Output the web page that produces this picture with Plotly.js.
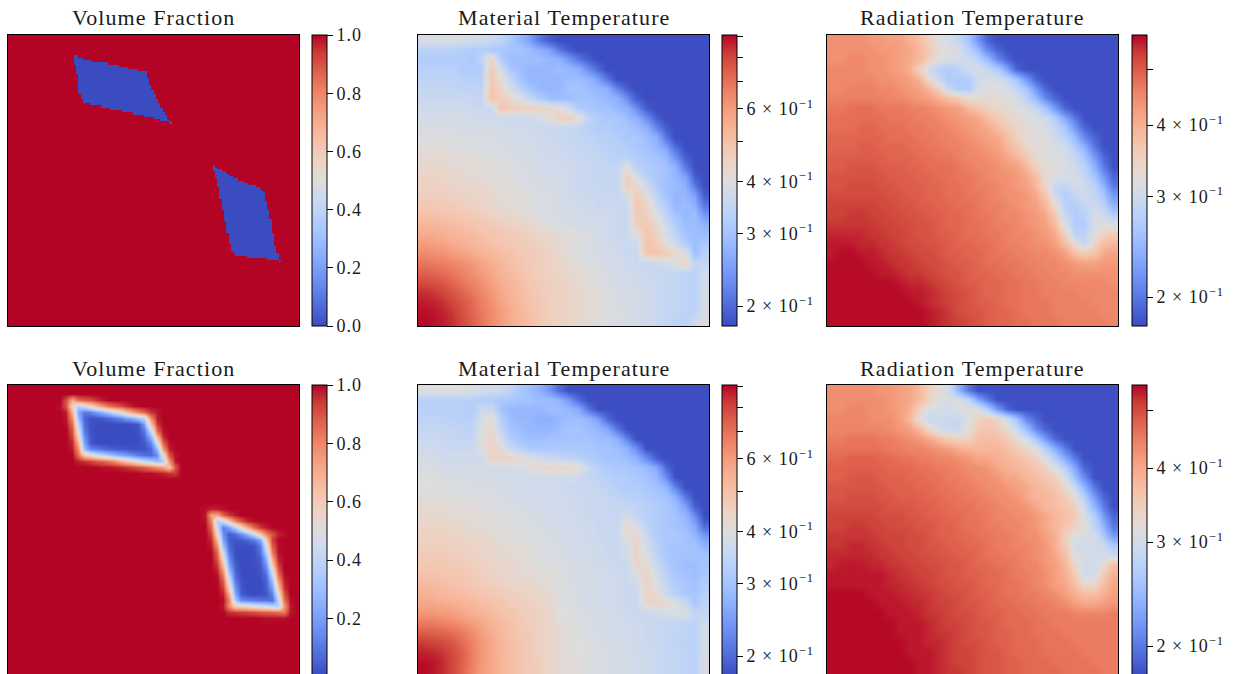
<!DOCTYPE html>
<html>
<head>
<meta charset="utf-8">
<script src="https://cdn.plot.ly/plotly-3.0.1.min.js"></script>
<style>
html,body{margin:0;padding:0;background:#fff;overflow:hidden;width:1240px;height:674px}
.annotation-text{letter-spacing:1.1px}
.colorbar text{letter-spacing:1px}
</style>
</head>
<body>
<div id="chart" style="width:1240px;height:700px"></div>
<script>
const panelTitles = ["Volume Fraction", "Material Temperature", "Radiation Temperature"];

// coolwarm colour map
const coolwarm = [[0,"rgb(59,76,192)"],[0.0625,"rgb(77,104,215)"],[0.125,"rgb(98,130,234)"],[0.1875,"rgb(119,154,247)"],[0.25,"rgb(141,176,254)"],[0.3125,"rgb(163,194,255)"],[0.375,"rgb(184,208,249)"],[0.4375,"rgb(204,217,238)"],[0.5,"rgb(221,221,221)"],[0.5625,"rgb(236,211,197)"],[0.625,"rgb(245,196,173)"],[0.6875,"rgb(247,177,148)"],[0.75,"rgb(244,154,123)"],[0.8125,"rgb(236,127,99)"],[0.875,"rgb(222,96,77)"],[0.9375,"rgb(203,62,56)"],[1,"rgb(180,4,38)"]];

// Top-left panel: low-density patches, [row, first column, end column] on a 128-cell grid
const vfTopSpans = [[9,29,31],[10,29,33],[11,29,37],[12,29,44],[13,30,49],[14,30,53],[15,30,57],[16,30,61],[17,31,61],[18,31,61],[19,31,62],[20,31,62],[21,31,62],[22,31,63],[23,31,63],[24,31,64],[25,31,64],[26,32,65],[27,32,65],[28,33,66],[29,33,66],[30,36,67],[31,41,67],[32,45,68],[33,50,68],[34,55,69],[35,60,70],[36,64,70],[37,67,71],[38,71,72],
[57,90,91],[58,90,92],[59,90,94],[60,91,96],[61,91,97],[62,91,99],[63,92,101],[64,92,104],[65,92,106],[66,92,109],[67,93,111],[68,93,112],[69,93,113],[70,93,113],[71,93,113],[72,94,113],[73,94,114],[74,94,114],[75,94,114],[76,94,114],[77,95,115],[78,95,115],[79,95,115],[80,95,115],[81,95,116],[82,96,116],[83,96,116],[84,96,116],[85,96,116],[86,96,116],[87,97,117],[88,97,117],[89,97,117],[90,97,117],[91,97,117],[92,98,117],[93,98,118],[94,98,118],[95,99,118],[96,100,119],[97,105,119],[98,114,119],[99,119,120]];

// Bottom-left panel: [row, first column, values...] on a 48-cell grid; all other cells are 1
const vfBottomPatches = [
[2,9,.9,.72,.85,.88,.91,.95,.98],
[3,8,.99,.9,.58,.36,.45,.55,.65,.75,.83,.88,.91,.95,.98],
[4,9,.97,.7,.23,.1,.13,.2,.26,.35,.43,.52,.63,.73,.81,.87,.95,.98],
[5,9,.98,.78,.3,.06,.02,.02,.04,.06,.1,.13,.2,.25,.33,.4,.78,.98],
[6,9,.99,.85,.4,.08,.01,.01,0,0,0,0,0,.01,.03,.2,.63,.94],
[7,10,.9,.48,.11,.02,0,0,0,0,0,0,0,.02,.1,.42,.87,.99],
[8,10,.93,.58,.17,.03,0,0,0,0,0,0,0,.01,.05,.24,.67,.96],
[9,10,.97,.7,.22,.04,0,0,0,0,0,0,0,.01,.03,.12,.47,.88,.99],
[10,10,.98,.78,.3,.15,.12,.09,.06,.05,.04,.03,.02,.02,.02,.06,.28,.75,.97],
[11,11,.85,.62,.55,.47,.4,.35,.28,.23,.2,.16,.11,.09,.07,.16,.53,.9,.99],
[12,11,.97,.95,.93,.89,.87,.83,.78,.7,.63,.56,.48,.42,.36,.28,.35,.78,.98],
[13,15,.99,.99,.98,.97,.95,.93,.9,.87,.83,.78,.72,.62,.9],
[14,22,.99,.99,.98,.97,.95,.94],
[20,32,.99,.97,.97,.99],
[21,32,.98,.73,.72,.87,.94,.98],
[22,32,.99,.81,.35,.44,.63,.8,.9,.97,.99],
[23,33,.87,.44,.11,.21,.35,.53,.72,.86,.94,.98],
[24,33,.93,.55,.16,.04,.08,.16,.27,.43,.62,.8,.9,.97,.99],
[25,33,.96,.67,.21,.04,.02,.03,.06,.11,.21,.6,.93],
[26,33,.98,.78,.3,.07,.01,.01,.01,.02,.11,.46,.88,.99],
[27,34,.86,.42,.09,.01,0,0,.01,.08,.37,.83,.99],
[28,34,.9,.52,.14,.02,0,0,.01,.04,.26,.72,.97],
[29,34,.94,.63,.2,.04,0,0,.01,.03,.19,.62,.94],
[30,34,.97,.74,.27,.06,0,0,0,.02,.12,.48,.89],
[31,34,.99,.83,.38,.08,.01,0,0,.01,.08,.38,.83,.99],
[32,35,.89,.48,.12,.02,0,0,0,.05,.27,.73,.97],
[33,35,.93,.58,.17,.03,0,0,0,.04,.2,.63,.95],
[34,35,.97,.7,.24,.04,.01,0,.01,.02,.13,.5,.9],
[35,35,.99,.8,.34,.15,.13,.11,.1,.09,.08,.38,.85,.99],
[36,35,.98,.78,.6,.57,.54,.5,.47,.44,.4,.37,.75,.98],
[37,36,.95,.94,.93,.92,.91,.89,.88,.87,.85,.83,.98],
[38,42,.99,.99,.99,.99]];

// Temperatures in hundredths
const matTop = [
[39,39,39,39,39,38,37,36,34,31,28,25,21,19,18,18,18,18,18,18,18,18,18,18,18,18,18,18,18,18],
[33,33,33,33,32,32,32,31,31,30,30,29,27,25,21,19,18,18,18,18,18,18,18,18,18,18,18,18,18,18],
[32,32,32,32,32,31,34,44,32,29,29,29,29,28,27,24,21,19,18,18,18,18,18,18,18,18,18,18,18,18],
[33,33,33,33,32,32,32,47,38,31,29,28,28,28,29,28,27,23,20,18,18,18,18,18,18,18,18,18,18,18],
[34,34,34,34,33,33,33,48,42,35,30,28,28,28,28,29,29,28,25,21,18,18,18,18,18,18,18,18,18,18],
[35,35,35,35,34,34,34,49,44,38,33,30,28,28,28,30,30,29,28,27,22,19,18,18,18,18,18,18,18,18],
[36,36,36,36,36,35,35,50,46,43,39,35,32,29,29,29,30,30,29,28,27,23,19,18,18,18,18,18,18,18],
[37,37,37,37,37,36,36,36,49,47,46,45,44,43,41,37,32,31,30,30,28,27,23,19,18,18,18,18,18,18],
[38,38,38,38,38,38,37,37,37,36,36,37,39,41,46,46,42,34,32,31,31,29,27,23,19,18,18,18,18,18],
[39,39,39,39,38,38,38,38,38,37,37,37,36,36,36,36,35,33,32,32,31,31,29,27,22,19,18,18,18,18],
[40,40,40,40,39,39,39,39,38,38,38,37,37,36,36,35,35,34,33,33,32,31,31,29,27,21,18,18,18,18],
[41,41,41,40,40,40,39,39,39,38,38,38,37,37,36,36,35,35,34,33,33,32,31,30,28,25,20,18,18,18],
[42,42,42,41,41,41,40,40,39,39,38,38,37,37,37,36,36,35,35,34,33,33,32,31,30,28,23,19,18,18],
[43,43,43,42,42,42,41,41,40,40,39,39,38,37,37,37,36,36,35,35,35,40,33,32,31,30,27,21,18,18],
[44,44,44,43,43,42,42,41,41,40,39,39,38,38,37,37,36,36,35,35,35,46,38,33,31,30,28,25,19,18],
[45,45,45,44,44,43,43,42,41,41,40,39,39,38,38,37,36,36,36,35,35,47,43,37,32,29,29,27,21,18],
[46,46,46,45,45,44,44,43,42,41,41,40,39,39,38,37,37,36,36,36,35,38,47,41,34,30,28,28,25,19],
[48,48,47,47,46,45,44,43,42,42,41,40,39,39,38,38,37,37,36,36,36,36,48,44,37,32,28,29,27,21],
[50,50,49,49,48,47,46,45,44,43,42,41,40,39,39,38,38,37,37,37,36,35,47,46,40,34,30,28,29,24],
[53,53,52,51,50,49,48,47,46,45,44,43,41,40,39,39,38,38,37,37,36,36,46,48,43,37,32,29,29,27],
[56,56,55,54,53,52,50,49,48,47,46,45,44,43,42,41,40,39,38,37,36,36,40,49,45,39,34,30,29,29],
[60,59,58,56,55,53,52,50,49,48,47,46,45,44,42,41,40,39,38,37,37,36,37,49,47,42,37,32,29,31],
[64,63,62,60,58,56,54,53,51,50,48,47,46,45,43,41,40,39,38,38,37,36,36,48,49,47,43,40,29,33],
[69,68,67,65,63,61,58,55,53,51,49,47,46,45,44,42,41,40,39,38,38,37,36,36,36,38,40,44,35,35],
[74,73,71,69,66,63,60,57,54,52,50,48,46,45,44,43,42,41,40,39,38,37,37,36,36,35,35,34,34,37],
[79,78,76,73,69,66,63,59,56,53,51,48,47,46,45,44,42,41,40,39,38,38,37,37,36,35,35,34,33,38],
[84,83,80,77,73,69,65,61,57,54,52,49,47,46,45,44,43,42,41,40,39,38,38,37,36,35,35,34,33,38],
[87,86,84,80,76,72,67,63,58,55,52,50,48,46,45,44,43,42,41,40,39,38,38,37,36,35,35,34,33,39],
[89,88,86,83,78,73,68,64,60,56,53,50,48,46,45,44,43,42,41,40,39,39,38,37,36,35,35,34,34,39],
[90,89,87,84,79,74,69,64,60,56,53,51,48,46,45,44,43,42,41,40,39,39,38,37,36,35,34,33,37,39]];

const matBottom = [
[40,40,40,40,40,39,38,37,36,34,31,29,27,24,20,18,18,18,18,18,18,18,18,18,18,18,18,18,18,18],
[33,33,33,33,33,33,32,32,31,31,30,30,29,29,27,24,20,18,18,18,18,18,18,18,18,18,18,18,18,18],
[33,33,33,33,33,32,36,36,30,28,28,28,28,29,29,28,26,21,18,18,18,18,18,18,18,18,18,18,18,18],
[34,34,34,33,33,33,38,42,33,29,28,28,27,27,28,29,29,28,25,20,18,18,18,18,18,18,18,18,18,18],
[35,35,35,35,34,34,40,43,35,30,29,28,28,28,29,30,30,29,28,26,21,18,18,18,18,18,18,18,18,18],
[36,36,36,35,35,35,40,44,38,32,30,29,29,30,30,30,30,30,29,29,27,22,18,18,18,18,18,18,18,18],
[37,37,36,36,36,36,40,45,42,36,33,31,31,31,31,31,31,31,30,30,29,27,23,18,18,18,18,18,18,18],
[38,38,37,37,37,37,37,44,45,44,42,40,38,36,35,34,33,32,31,30,30,29,27,23,19,18,18,18,18,18],
[39,39,38,38,38,38,38,38,38,38,39,41,43,44,44,44,42,36,33,32,31,31,30,29,26,20,18,18,18,18],
[40,40,39,39,39,39,38,38,38,38,37,37,37,37,37,37,37,35,34,33,32,32,31,30,28,23,18,18,18,18],
[40,40,40,40,39,39,39,39,38,38,38,37,37,37,37,36,36,36,35,34,33,32,32,31,30,28,22,18,18,18],
[41,41,41,40,40,40,40,39,39,38,38,38,37,37,37,37,36,36,36,35,34,33,33,32,31,30,27,21,18,18],
[42,42,42,41,41,41,40,40,39,39,39,38,38,37,37,37,37,36,36,36,35,35,34,33,32,31,29,25,19,18],
[43,43,43,42,42,42,41,41,40,40,39,39,38,38,37,37,37,36,36,36,35,38,35,33,32,31,30,28,23,18],
[44,44,44,43,43,42,42,41,41,40,40,39,39,38,38,37,37,37,36,36,36,43,39,34,32,31,30,29,26,20],
[45,45,45,44,44,43,43,42,41,41,40,40,39,39,38,38,37,37,36,36,36,42,43,36,32,31,31,30,28,24],
[46,46,46,45,45,44,44,43,42,42,41,40,39,39,39,38,37,37,37,36,36,38,44,38,33,31,30,30,30,27],
[47,47,47,46,46,45,44,44,43,42,42,41,40,39,39,38,38,37,37,36,36,37,44,40,34,31,30,30,30,30],
[48,48,48,47,47,46,45,44,43,43,42,41,40,40,39,39,38,38,37,37,36,36,44,42,36,32,30,29,29,30],
[50,50,49,49,48,47,46,45,44,43,42,42,41,41,40,39,38,38,38,37,37,36,40,44,38,33,31,30,29,31],
[52,52,51,50,49,48,47,46,45,44,43,43,42,41,40,39,39,38,38,37,37,36,37,44,40,35,32,31,30,32],
[55,54,53,52,51,50,49,48,47,46,45,44,43,43,40,39,39,38,38,37,37,36,36,44,42,37,33,31,30,33],
[57,57,56,55,54,53,51,50,49,47,46,45,44,43,40,40,39,38,38,37,37,36,36,43,44,43,40,36,31,34],
[61,61,60,59,57,55,54,52,50,49,47,46,45,44,40,40,39,39,38,38,37,37,36,36,37,38,39,39,35,35],
[68,68,66,65,62,60,57,54,52,50,48,46,45,44,41,40,40,39,38,38,37,37,37,36,36,35,35,34,34,37],
[75,74,73,71,68,64,59,56,53,50,48,47,45,44,42,41,40,39,39,38,38,37,37,36,36,35,35,34,33,38],
[82,80,79,76,71,66,61,57,53,51,49,47,45,44,42,41,40,40,39,38,38,37,37,36,36,35,34,34,33,38],
[86,85,83,79,74,67,61,57,54,51,49,47,45,44,42,41,40,40,39,39,38,38,37,37,36,35,35,34,33,39],
[89,88,85,80,74,67,61,57,54,51,49,47,46,44,42,41,41,40,39,39,38,38,37,37,36,35,35,34,33,39],
[90,88,85,80,73,66,60,57,54,51,49,47,46,44,42,41,41,40,39,39,38,38,37,37,36,35,35,34,33,39]];

const radTop = [
[44,44,44,44,43,43,42,42,40,38,35,32,31,29,26,22,19,18,18,18,18,18,18,18,18,18,18,18,18,18],
[44,44,44,44,44,43,43,42,41,39,36,33,32,31,28,25,21,19,18,18,18,18,18,18,18,18,18,18,18,18],
[44,44,45,45,44,44,43,42,41,39,35,32,31,31,30,28,25,21,19,18,18,18,18,18,18,18,18,18,18,18],
[45,45,45,45,44,44,43,42,40,35,30,28,27,28,30,31,29,27,23,19,18,18,18,18,18,18,18,18,18,18],
[45,45,45,45,45,44,44,43,42,40,33,29,27,27,27,30,31,31,29,26,22,19,18,18,18,18,18,18,18,18],
[45,45,46,46,46,45,45,44,43,42,39,35,29,27,27,31,32,32,31,29,26,22,19,18,18,18,18,18,18,18],
[46,46,46,46,46,46,45,45,44,43,42,40,38,36,33,33,33,33,32,31,28,25,21,19,18,18,18,18,18,18],
[47,47,48,48,48,47,47,47,46,46,45,44,43,42,39,37,35,34,33,32,31,29,26,22,19,18,18,18,18,18],
[48,48,48,48,48,48,47,47,47,46,46,45,44,43,42,41,38,36,34,33,32,31,30,27,23,20,18,18,18,18],
[48,48,48,49,49,48,48,48,47,47,46,46,45,44,43,42,41,38,36,34,33,32,31,29,26,22,19,18,18,18],
[49,49,49,49,49,49,48,48,48,47,47,46,46,45,44,43,42,41,38,35,33,32,32,30,28,25,21,19,18,18],
[49,49,49,50,50,49,49,49,48,48,47,47,46,46,45,44,43,42,39,37,34,33,32,31,30,27,24,20,18,18],
[50,50,50,50,50,50,49,49,49,48,48,47,47,46,45,45,44,43,41,39,36,33,32,32,31,29,26,22,19,18],
[50,50,51,51,51,50,50,50,49,49,48,48,48,47,46,45,45,44,43,42,39,35,33,32,31,30,28,24,20,18],
[51,51,51,51,51,51,50,50,50,49,49,48,48,47,47,46,45,44,44,43,41,38,33,32,31,31,29,26,22,19],
[51,51,52,52,52,51,51,50,50,50,49,49,48,48,47,46,46,45,44,43,42,39,34,29,29,31,30,28,24,20],
[52,52,52,52,52,52,51,51,50,50,49,49,48,48,47,47,46,45,44,44,43,41,37,30,27,29,30,29,26,22],
[53,53,53,53,53,52,52,51,51,50,50,49,49,48,48,47,46,46,45,44,43,42,39,33,28,27,29,30,28,24],
[53,53,54,54,53,53,52,52,51,51,50,50,49,49,48,47,47,46,45,45,44,43,41,36,29,27,28,31,30,27],
[54,54,54,54,54,53,53,52,52,51,51,50,49,49,48,48,47,46,46,45,44,43,42,38,31,27,27,31,32,31],
[55,55,55,55,54,54,53,53,52,51,51,50,50,49,48,48,47,47,46,45,45,44,43,41,35,28,28,32,35,36],
[56,56,56,55,55,54,54,53,52,52,51,51,50,49,49,48,48,47,46,46,45,44,44,42,38,33,29,34,38,39],
[56,57,57,56,56,55,54,54,53,52,52,51,50,50,49,49,48,47,47,46,46,45,45,44,42,38,36,37,41,42],
[57,57,57,57,56,56,55,54,54,53,52,52,51,50,50,49,48,48,47,47,46,46,45,45,44,43,42,42,43,43],
[57,57,57,57,57,56,56,55,54,54,53,52,51,51,50,49,49,48,48,47,47,46,46,45,45,44,44,44,44,44],
[57,57,57,57,57,57,57,56,55,55,54,53,52,51,50,50,49,49,48,48,47,47,46,46,45,45,45,45,45,44],
[57,57,57,57,57,57,57,57,56,56,55,54,53,52,51,50,49,49,48,48,47,47,46,46,46,46,45,45,45,45],
[57,57,57,57,57,57,57,57,57,56,55,54,53,52,51,50,50,49,48,48,47,47,47,46,46,46,46,45,45,45],
[57,57,57,57,57,57,57,57,57,57,56,55,54,52,51,51,50,49,49,48,47,47,47,46,46,46,46,46,45,45],
[57,57,57,57,57,57,57,57,57,57,56,55,54,53,52,51,50,49,49,48,48,47,47,47,46,46,46,46,46,45]];

const radBottom = [
[43,43,43,43,43,42,42,41,40,38,34,32,30,24,20,18,18,18,18,18,18,18,18,18,18,18,18,18,18,18],
[43,43,43,43,43,43,42,41,40,38,34,31,31,31,28,23,20,18,18,18,18,18,18,18,18,18,18,18,18,18],
[43,43,44,44,43,43,42,41,39,34,31,30,30,31,32,31,27,22,19,18,18,18,18,18,18,18,18,18,18,18],
[44,44,44,44,43,43,43,41,38,32,29,29,29,29,31,34,35,34,30,26,21,19,18,18,18,18,18,18,18,18],
[44,44,44,44,44,44,43,42,41,38,33,30,29,29,32,35,36,35,33,29,25,21,19,18,18,18,18,18,18,18],
[45,45,46,46,46,45,45,44,43,42,40,37,35,34,34,37,37,37,35,33,30,26,22,19,18,18,18,18,18,18],
[46,46,46,46,46,46,45,45,44,44,43,42,41,39,38,38,38,38,37,35,33,31,27,23,20,18,18,18,18,18],
[47,47,48,48,48,47,47,46,46,45,45,44,44,43,42,40,40,39,38,37,36,34,31,27,23,20,18,18,18,18],
[48,48,48,48,48,48,47,47,47,46,46,45,45,44,43,43,42,40,39,38,37,36,34,31,27,23,19,18,18,18],
[48,48,49,49,49,48,48,48,47,47,46,46,45,45,44,43,43,42,40,40,38,37,36,34,30,25,21,18,18,18],
[49,49,49,49,49,49,48,48,48,47,47,46,46,45,45,44,43,43,42,41,40,38,37,36,33,29,24,20,18,18],
[49,49,50,50,50,49,49,48,48,48,47,47,46,46,45,45,44,43,43,42,40,38,38,37,35,32,27,22,19,18],
[50,50,50,50,50,50,49,49,49,48,48,47,47,46,46,45,45,44,43,43,42,40,38,37,36,34,29,24,20,18],
[51,51,51,51,51,50,50,50,49,49,48,48,47,47,46,46,45,44,44,43,43,42,40,38,37,35,31,27,22,19],
[51,51,52,52,51,51,50,50,50,49,49,48,48,47,46,46,45,45,44,44,43,42,40,38,36,34,32,28,24,20],
[52,52,52,52,52,51,51,51,50,50,49,48,48,47,47,46,46,45,45,44,43,43,41,39,34,31,31,30,26,22],
[52,52,53,53,52,52,51,51,50,50,49,49,48,48,47,47,46,45,45,44,44,43,42,39,35,30,30,30,29,26],
[53,53,53,53,53,52,52,51,51,50,50,49,49,48,48,47,46,46,45,45,44,43,42,40,37,31,30,30,30,29],
[53,54,54,54,53,53,52,52,51,51,50,50,49,49,48,47,47,46,46,45,44,44,42,41,38,33,30,30,32,37],
[54,54,54,54,54,54,53,52,52,51,51,50,49,49,48,48,47,47,46,45,45,44,43,41,39,35,30,30,35,39],
[54,54,54,54,54,54,53,53,52,52,51,50,50,49,49,48,47,47,46,46,45,44,43,41,40,37,33,33,37,40],
[55,55,55,55,54,54,54,53,53,52,52,51,50,50,49,48,48,47,46,46,45,45,44,43,41,39,37,37,39,41],
[55,55,55,55,55,54,54,54,53,53,52,51,51,50,49,49,48,47,47,46,46,45,45,44,43,41,40,40,41,42],
[55,55,55,55,55,55,54,54,54,53,52,52,51,50,50,49,48,48,47,47,46,46,45,45,45,44,44,44,44,45],
[55,55,55,55,55,55,55,54,54,54,53,52,51,51,50,49,49,48,47,47,47,46,46,45,45,45,45,45,45,45],
[55,55,55,55,55,55,55,54,54,54,53,52,52,51,50,49,49,48,48,47,47,46,46,46,45,45,45,45,45,45],
[55,55,55,55,55,55,55,55,54,54,53,53,52,51,50,50,49,48,48,47,47,47,46,46,46,45,45,45,45,45],
[55,55,55,55,55,55,55,55,54,54,54,53,52,51,51,50,49,49,48,47,47,47,46,46,46,46,45,45,45,45],
[55,55,55,55,55,55,55,55,55,54,54,53,52,51,51,50,49,49,48,48,47,47,47,46,46,46,46,45,45,45],
[55,55,55,55,55,55,55,55,55,54,54,53,52,52,51,50,49,49,48,48,47,47,47,47,46,46,46,46,45,45]];

// colour limits and ticks
const matRange = [0.179, 0.906];
const radTopRange = [0.178, 0.575];
const radBottomRange = [0.178, 0.553];
const vfTopTicks = [0, 0.2, 0.4, 0.6, 0.8, 1];
const vfTopLabels = ["0.0", "0.2", "0.4", "0.6", "0.8", "1.0"];
const vfBottomTicks = [0.2, 0.4, 0.6, 0.8, 1];
const vfBottomLabels = ["0.2", "0.4", "0.6", "0.8", "1.0"];
const matTicks = [0.2, 0.3, 0.4, 0.5, 0.6, 0.7, 0.8, 0.9];
const matLabels = ["2 × 10<sup>−1</sup>", "3 × 10<sup>−1</sup>", "4 × 10<sup>−1</sup>", "", "6 × 10<sup>−1</sup>", "", "", ""];
const radTicks = [0.2, 0.3, 0.4, 0.5];
const radLabels = ["2 × 10<sup>−1</sup>", "3 × 10<sup>−1</sup>", "4 × 10<sup>−1</sup>", ""];

// page geometry in pixels
const W = 1240, H = 700, SIDE = 291;
const colLeft = [8, 418, 827];
const barLeft = [312, 722, 1132];
const rowTop = [35, 385];
const titleY = [18, 368];
const FONT = "Liberation Serif, Times New Roman, serif";

const vfTop = Array.from({length: 128}, () => new Array(128).fill(1));
vfTopSpans.forEach(s => { for (let c = s[1]; c < s[2]; c++) vfTop[s[0]][c] = 0; });
const vfBottom = Array.from({length: 48}, () => new Array(48).fill(1));
vfBottomPatches.forEach(p => { p.slice(2).forEach((v, k) => { vfBottom[p[0]][p[1] + k] = v; }); });
const logGrid = g => g.map(r => r.map(v => Math.log10(v / 100)));

const panels = [
 {r:0,c:0,z:vfTop,smooth:false,zr:[0,1],tv:vfTopTicks,tt:vfTopLabels},
 {r:0,c:1,z:logGrid(matTop),smooth:"best",zr:matRange.map(Math.log10),tv:matTicks.map(Math.log10),tt:matLabels},
 {r:0,c:2,z:logGrid(radTop),smooth:"best",zr:radTopRange.map(Math.log10),tv:radTicks.map(Math.log10),tt:radLabels},
 {r:1,c:0,z:vfBottom,smooth:"best",zr:[0.003,1],tv:vfBottomTicks,tt:vfBottomLabels},
 {r:1,c:1,z:logGrid(matBottom),smooth:"best",zr:matRange.map(Math.log10),tv:matTicks.map(Math.log10),tt:matLabels},
 {r:1,c:2,z:logGrid(radBottom),smooth:"best",zr:radBottomRange.map(Math.log10),tv:radTicks.map(Math.log10),tt:radLabels}
];

const traces = [], annotations = [];
const layout = {width:W,height:H,margin:{l:0,r:0,t:0,b:0,autoexpand:false},paper_bgcolor:"#fff",plot_bgcolor:"#fff",showlegend:false,font:{family:FONT,color:"#1a1a1a"}};

panels.forEach((p, i) => {
  const n = p.z.length, sfx = i === 0 ? "" : String(i + 1);
  const top = rowTop[p.r], left = colLeft[p.c];
  const axis = {showticklabels:false,ticks:"",showgrid:false,zeroline:false,showline:true,mirror:true,linecolor:"#000",linewidth:1};
  layout["xaxis" + sfx] = Object.assign({}, axis, {domain:[left / W, (left + SIDE) / W], range:[-0.5, n - 0.5], anchor:"y" + sfx});
  layout["yaxis" + sfx] = Object.assign({}, axis, {domain:[1 - (top + SIDE) / H, 1 - top / H], range:[n - 0.5, -0.5], anchor:"x" + sfx});
  traces.push({
    type:"heatmap", z:p.z, xaxis:"x" + sfx, yaxis:"y" + sfx, zmin:p.zr[0], zmax:p.zr[1], zsmooth:p.smooth, colorscale:coolwarm, hoverinfo:"skip",
    colorbar:{x:barLeft[p.c] / W, xanchor:"left", y:1 - top / H, yanchor:"top", len:SIDE, lenmode:"pixels", thickness:15, thicknessmode:"pixels", xpad:0, ypad:0,
      outlinecolor:"#000", outlinewidth:1, borderwidth:0, tickmode:"array", tickvals:p.tv, ticktext:p.tt, ticks:"outside", ticklen:6, tickwidth:1, tickcolor:"#000",
      tickfont:{family:FONT, size:18, color:"#1a1a1a"}}
  });
  annotations.push({xref:"paper", yref:"paper", x:(left + SIDE / 2) / W, y:1 - titleY[p.r] / H, xanchor:"center", yanchor:"middle", showarrow:false, text:panelTitles[p.c], font:{family:FONT, size:22, color:"#1a1a1a"}});
});
layout.annotations = annotations;
Plotly.newPlot("chart", traces, layout, {displayModeBar:false, staticPlot:true}).then(gd => {
  // minor colour-bar ticks carry no label: drop their empty text nodes
  gd.querySelectorAll(".colorbar text").forEach(t => { if (!t.textContent.trim()) t.remove(); });
});
</script>
</body>
</html>
